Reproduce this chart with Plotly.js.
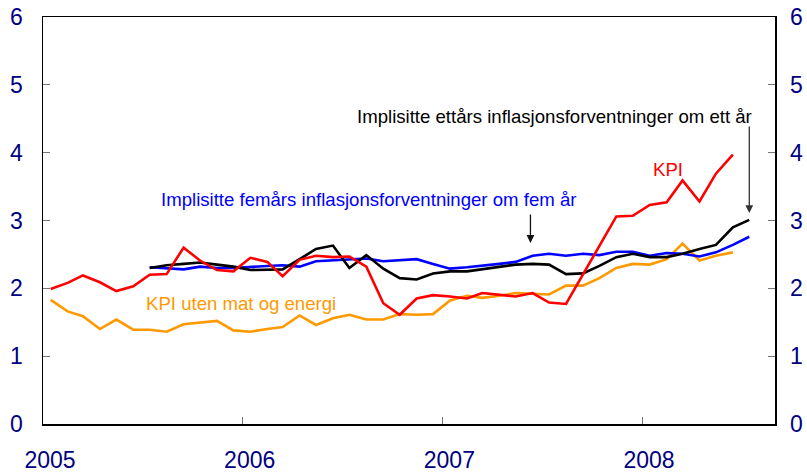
<!DOCTYPE html>
<html>
<head>
<meta charset="utf-8">
<script src="https://cdn.plot.ly/plotly-3.0.1.min.js"></script>
<style>html,body{margin:0;padding:0;background:#fff;}#chart{width:807px;height:475px;}</style>
</head>
<body>
<div id="chart"></div>
<script>
var months = [
 "2005-01-15","2005-02-15","2005-03-15","2005-04-15","2005-05-15","2005-06-15",
 "2005-07-15","2005-08-15","2005-09-15","2005-10-15","2005-11-15","2005-12-15",
 "2006-01-15","2006-02-15","2006-03-15","2006-04-15","2006-05-15","2006-06-15",
 "2006-07-15","2006-08-15","2006-09-15","2006-10-15","2006-11-15","2006-12-15",
 "2007-01-15","2007-02-15","2007-03-15","2007-04-15","2007-05-15","2007-06-15",
 "2007-07-15","2007-08-15","2007-09-15","2007-10-15","2007-11-15","2007-12-15",
 "2008-01-15","2008-02-15","2008-03-15","2008-04-15","2008-05-15","2008-06-15",
 "2008-07-15"
];
var kpi = [1.99,2.08,2.19,2.09,1.96,2.03,2.20,2.21,2.60,2.41,2.27,2.25,
 2.45,2.39,2.18,2.42,2.48,2.46,2.47,2.32,1.78,1.61,1.85,1.90,
 1.88,1.85,1.93,1.91,1.88,1.93,1.79,1.77,2.21,2.64,3.06,3.07,
 3.23,3.27,3.59,3.28,3.69,3.97,null];
var kpiJae = [1.83,1.66,1.59,1.40,1.54,1.39,1.39,1.36,1.47,1.50,1.52,1.38,
 1.36,1.40,1.43,1.60,1.46,1.56,1.61,1.54,1.54,1.62,1.61,1.62,
 1.82,1.89,1.86,1.89,1.93,1.92,1.91,2.04,2.04,2.15,2.30,2.36,
 2.35,2.43,2.66,2.41,2.48,2.53,null];
var ettAar = [null,null,null,null,null,null,2.30,2.34,2.36,2.38,2.35,2.32,
 2.27,2.27,2.28,2.43,2.58,2.63,2.30,2.49,2.29,2.15,2.13,2.22,
 2.25,2.25,2.28,2.31,2.35,2.36,2.35,2.21,2.22,2.33,2.46,2.51,
 2.46,2.46,2.51,2.58,2.64,2.90,3.01];
var femAar = [null,null,null,null,null,null,2.31,2.29,2.28,2.32,2.30,2.30,
 2.31,2.33,2.34,2.32,2.40,2.41,2.42,2.44,2.40,2.41,2.43,2.36,
 2.29,2.31,2.33,2.36,2.39,2.48,2.51,2.48,2.51,2.49,2.54,2.54,
 2.48,2.52,2.51,2.47,2.53,2.64,2.76];
var yearTicks = ["2005-01-01","2006-01-01","2007-01-01","2008-01-01"];
var yearLabels = ["2005","2006","2007","2008"];
var yTicks = [0,1,2,3,4,5,6];

var font = "Liberation Sans, Arial, sans-serif";
var tickCol = "#000080";
var traces = [
 {x: months, y: kpiJae, type: "scatter", mode: "lines", line: {color: "#ff9900", width: 2.6}, hoverinfo: "none"},
 {x: months, y: femAar, type: "scatter", mode: "lines", line: {color: "#0000ff", width: 2.6}, hoverinfo: "none"},
 {x: months, y: ettAar, type: "scatter", mode: "lines", line: {color: "#000000", width: 2.6}, hoverinfo: "none"},
 {x: months, y: kpi, type: "scatter", mode: "lines", line: {color: "#ff0000", width: 2.6}, hoverinfo: "none"},
 {x: months, y: kpi, type: "scatter", mode: "lines", yaxis: "y2", line: {width: 0}, opacity: 0, hoverinfo: "none"}
];
var layout = {
 width: 807, height: 475,
 margin: {l: 43, r: 32, t: 17, b: 51, pad: 0},
 paper_bgcolor: "#fff", plot_bgcolor: "#fff",
 showlegend: false,
 font: {family: font, size: 23, color: tickCol},
 xaxis: {
  type: "date", range: ["2005-01-01", "2008-08-31"],
  tickmode: "array", tickvals: yearTicks, ticktext: yearLabels,
  ticks: "inside", ticklen: 7, tickcolor: "#777", tickwidth: 1,
  showline: true, linecolor: "#000", linewidth: 1.5, mirror: true,
  showgrid: false, zeroline: false,
  ticklabelshift: 7, ticklabelstandoff: 15,
  tickfont: {family: font, size: 23, color: tickCol}
 },
 yaxis: {
  range: [0, 6], tickmode: "array", tickvals: yTicks,
  ticks: "inside", ticklen: 7, tickcolor: "#777", tickwidth: 1,
  showline: true, linecolor: "#000", linewidth: 1.5, mirror: true,
  showgrid: false, zeroline: false, ticklabelstandoff: 14,
  tickfont: {family: font, size: 23, color: tickCol}
 },
 yaxis2: {
  range: [0, 6], tickmode: "array", tickvals: yTicks, overlaying: "y", side: "right",
  ticks: "inside", ticklen: 7, tickcolor: "#777", tickwidth: 1,
  showline: false, showgrid: false, zeroline: false, ticklabelstandoff: 14,
  tickfont: {family: font, size: 23, color: tickCol}
 },
 annotations: [
  {xref: "paper", yref: "paper", x: 0.699, y: 0.755, xanchor: "center", yanchor: "middle",
   text: "Implisitte ettårs inflasjonsforventninger om ett år",
   showarrow: false, font: {family: font, size: 18.6, color: "#000"}},
  {xref: "paper", yref: "paper", x: 0.445, y: 0.551, xanchor: "center", yanchor: "middle",
   text: "Implisitte femårs inflasjonsforventninger om fem år",
   showarrow: false, font: {family: font, size: 18.6, color: "#0000ff"}},
  {xref: "paper", yref: "paper", x: 0.854, y: 0.625, xanchor: "center", yanchor: "middle",
   text: "KPI",
   showarrow: false, font: {family: font, size: 18.6, color: "#ff0000"}},
  {xref: "paper", yref: "paper", x: 0.270, y: 0.295, xanchor: "center", yanchor: "middle",
   text: "KPI uten mat og energi",
   showarrow: false, font: {family: font, size: 18.6, color: "#ff9900"}},
  {xref: "x", yref: "y", x: "2008-07-15", y: 3.11, ax: 0, ay: -88, text: "",
   showarrow: true, arrowhead: 2, arrowsize: 1.2, arrowwidth: 1.3, arrowcolor: "#333", standoff: 0},
  {xref: "x", yref: "y", x: "2007-06-11", y: 2.67, ax: 0, ay: -30, text: "",
   showarrow: true, arrowhead: 2, arrowsize: 1.2, arrowwidth: 1.3, arrowcolor: "#111", standoff: 0}
 ]
};
Plotly.newPlot("chart", traces, layout, {staticPlot: true});
</script>
</body>
</html>
